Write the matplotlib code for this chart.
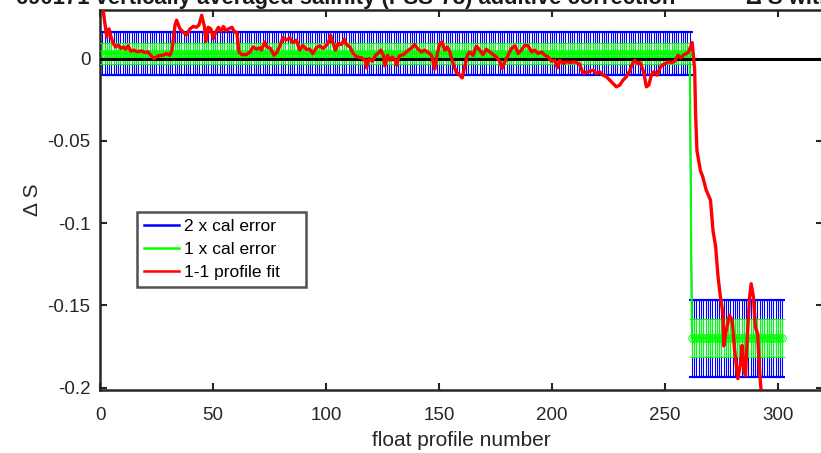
import matplotlib
matplotlib.use("Agg")
import matplotlib.pyplot as plt
from matplotlib.lines import Line2D
import numpy as np

plt.rcParams['font.family'] = ['Liberation Sans', 'DejaVu Sans']
plt.rcParams['axes.unicode_minus'] = False

# calibration segments: first/last profile, offset and 1x error
seg_first = [1, 262]
seg_last = [261, 302]
seg_offset = [0.003, -0.170]
seg_error = [0.0065, 0.0117]

# 1-1 profile fit
prof_fit = [1, 3.0, 4.0, 4.9, 5.9, 6.9, 8.1, 9.3, 10.3, 11.3, 12.5, 13.6, 15.1, 16.5, 18.3,
            19.8, 21.2, 22.7, 23.9, 25.7, 27.9, 29.4, 30.9, 31.9, 33.2, 33.9, 35.4, 36.9,
            38.3, 39.8, 41.3, 42.7, 43.8, 45.0, 46.2, 46.9, 47.9, 49.1, 50.1, 51.2, 52.4,
            53.6, 54.6, 55.8, 56.9, 58.4, 59.6, 60.6, 61.5, 62.7, 64.9, 66.4, 67.8, 69.3,
            70.8, 71.4, 72.9, 74.0, 75.5, 77.0, 78.4, 79.9, 80.9, 82.4, 83.9, 85.4, 86.9,
            88.4, 89.8, 91.3, 92.8, 94.2, 95.7, 97.2, 98.7, 100.2, 101.2, 102.1, 103.2,
            104.2, 105.4, 106.9, 108.1, 109.1, 110.6, 112.1, 113.6, 115.8, 117.3, 118.0,
            119.0, 120.5, 122.0, 123.5, 124.3, 125.4, 126.1, 127.3, 128.3, 129.4, 130.6,
            131.3, 132.4, 134.3, 136.5, 138.0, 139.2, 140.7, 142.3, 143.7, 145.2, 146.7,
            148.2, 149.3, 150.4, 151.4, 152.6, 153.7, 154.8, 156.3, 157.7, 159.2, 160.3,
            161.4, 162.6, 163.6, 165.1, 166.6, 168.1, 169.5, 171.0, 172.5, 174.0, 175.4,
            176.9, 178.0, 179.2, 180.6, 182.1, 183.6, 185.1, 186.5, 188.0, 189.5, 191.0,
            192.4, 193.9, 195.4, 196.9, 198.3, 199.8, 201.3, 202.5, 203.5, 205.0, 206.5,
            208.0, 210.1, 212.3, 213.8, 216.0, 218.2, 219.7, 221.2, 222.6, 224.1, 225.6,
            227.1, 228.5, 230.0, 231.5, 233.0, 234.4, 235.5, 236.7, 237.8, 238.9, 239.6,
            240.8, 241.8, 242.9, 244.0, 245.2, 246.7, 247.7, 248.8, 250.2, 251.7, 253.2,
            254.4, 255.8, 257.0, 258.5, 259.5, 260.5, 262.1, 263.2, 263.6, 264.2, 265.7,
            266.8, 268.3, 270.2, 271.3, 272.5, 273.5, 274.5, 275.7, 276.1, 277.2, 278.6,
            279.8, 280.9, 282.3, 283.5, 284.2, 285.0, 285.7, 286.5, 287.5, 288.2, 289.2,
            290.1, 291.1, 291.9, 292.6, 293.5]
dS_fit = [0.033, 0.0131, 0.018, 0.013, 0.0091, 0.0071, 0.0081, 0.0061, 0.0071, 0.0057, 0.0077,
          0.0045, 0.0051, 0.0041, 0.0047, 0.0037, 0.0041, 0.0016, 0.0, 0.0016, 0.002, 0.003,
          0.002, 0.0051, 0.0203, 0.0233, 0.018, 0.016, 0.0144, 0.018, 0.0195, 0.019, 0.0204,
          0.0263, 0.0195, 0.0105, 0.019, 0.018, 0.012, 0.016, 0.019, 0.0165, 0.0195, 0.0168,
          0.018, 0.019, 0.016, 0.016, 0.004, 0.0024, 0.0024, 0.004, 0.007, 0.0057, 0.0065,
          0.0051, 0.0101, 0.007, 0.0061, 0.002, 0.004, 0.0085, 0.0128, 0.0112, 0.0126, 0.0097,
          0.0112, 0.0051, 0.0081, 0.0055, 0.0057, 0.003, 0.0065, 0.0077, 0.0061, 0.0081,
          0.0101, 0.0142, 0.0091, 0.0051, 0.0091, 0.0085, 0.0118, 0.0085, 0.007, 0.003, 0.001,
          0.0004, -0.001, -0.0057, 0.0, -0.0016, 0.002, 0.0037, 0.0051, 0.002, -0.0045, 0.002,
          -0.001, 0.001, -0.001, -0.004, 0.0016, 0.0024, 0.0051, 0.0065, 0.0085, 0.0058, 0.004,
          0.0051, 0.0037, 0.002, -0.0065, 0.003, 0.0091, 0.0101, 0.0051, 0.007, 0.004, -0.003,
          -0.0085, -0.0101, -0.0118, -0.005, 0.002, 0.004, 0.002, 0.0075, 0.0051, 0.0024,
          0.0057, 0.004, 0.0024, 0.001, -0.0016, -0.006, -0.002, 0.002, 0.0061, 0.0077, 0.003,
          0.0051, 0.0081, 0.0077, 0.004, 0.0051, 0.003, 0.004, 0.002, 0.001, -0.0016, -0.001,
          -0.0057, -0.001, -0.003, -0.002, -0.0024, -0.002, -0.0035, -0.009, -0.0081, -0.0071,
          -0.0091, -0.0081, -0.0101, -0.011, -0.0131, -0.0152, -0.0172, -0.0162, -0.0131,
          -0.011, -0.0077, -0.0036, -0.001, -0.003, -0.0024, -0.004, -0.0091, -0.0172, -0.0162,
          -0.0101, -0.0081, -0.0101, -0.006, -0.004, -0.003, -0.002, -0.0024, -0.0016, 0.002,
          0.0004, 0.0024, 0.003, 0.004, 0.0097, -0.0071, -0.0335, -0.0558, -0.068, -0.072,
          -0.080, -0.086, -0.1044, -0.1146, -0.132, -0.144, -0.155, -0.1747, -0.165, -0.1561,
          -0.159, -0.1775, -0.1946, -0.1855, -0.1744, -0.1896, -0.1926, -0.1693, -0.145,
          -0.1369, -0.145, -0.1633, -0.1673, -0.1896, -0.2018, -0.215]

x_ticks = [0, 50, 100, 150, 200, 250, 300]
y_ticks = [-0.2, -0.15, -0.1, -0.05, 0]
y_ticklabels = ['-0.2', '-0.15', '-0.1', '-0.05', '0']
legend_labels = ['2 x cal error', '1 x cal error', '1-1 profile fit    ']

# expand segments into per-profile arrays
prof = np.concatenate([np.arange(a, b + 1) for a, b in zip(seg_first, seg_last)])
offset = np.concatenate([np.full(b - a + 1, o) for a, b, o in zip(seg_first, seg_last, seg_offset)])
err = np.concatenate([np.full(b - a + 1, e) for a, b, e in zip(seg_first, seg_last, seg_error)])

blue = (0, 0, 1)
green = (0, 1, 0)
red = (1, 0, 0)

fig = plt.figure(figsize=(8.21, 4.53), dpi=100)
ax = fig.add_axes([100 / 821, 63 / 453, 723 / 821, 380 / 453])

ax.errorbar(prof, offset, yerr=2 * err, fmt='-', color=blue, ecolor=blue, lw=1,
            elinewidth=0.8, capsize=2.4, capthick=1.5, zorder=2)
ax.errorbar(prof, offset, yerr=err, fmt='o-', color=green, ecolor=green, lw=1.5,
            ms=5.5, mfc='none', mec=green, mew=0.6, elinewidth=0.8, capsize=2.4,
            capthick=1.5, zorder=3)
ax.plot([0, 320], [0, 0], color='k', lw=2.2, zorder=4)
ax.plot(prof_fit, dS_fit, color=red, lw=2.4, zorder=5)

ax.set_xlim(0, 320)
ax.set_ylim(-0.2015, 0.0295)
ax.set_xticks(x_ticks)
ax.set_yticks(y_ticks)
ax.set_yticklabels(y_ticklabels)
ax.tick_params(direction='in', top=True, right=True, length=5, width=1.5,
               labelsize=13.5, colors='0.15', labelcolor='0.15')
ax.tick_params(axis='x', pad=12)
ax.tick_params(axis='y', pad=7)
for s in ax.spines.values():
    s.set_linewidth(1.8)
    s.set_color('0.15')

ax.set_xlabel('float profile number', fontsize=15, color='0.15', labelpad=5)
ax.set_ylabel('Δ S', fontsize=15, color='0.15', labelpad=4)

handles = [Line2D([], [], color=blue, lw=1.8),
           Line2D([], [], color=green, lw=1.8),
           Line2D([], [], color=red, lw=1.8)]
leg = ax.legend(handles, legend_labels,
                loc='upper left', bbox_to_anchor=(0.051, 0.468), fontsize=12.5,
                frameon=True, fancybox=False, handlelength=2.0, handletextpad=0.3,
                labelspacing=0.45, borderpad=0.4, borderaxespad=0)
leg.get_frame().set_edgecolor('0.15')
leg.get_frame().set_linewidth(1.8)

fig.text(16 / 821, 1 - 4 / 453, '690171 vertically averaged salinity (PSS-78) additive correction',
         fontsize=15.8, fontweight='bold', va='baseline', ha='left', color='0.1')
fig.text(746 / 821, 1 - 4 / 453, 'Δ S with errors',
         fontsize=15.8, fontweight='bold', va='baseline', ha='left', color='0.1')

fig.savefig('out.png', dpi=100)
